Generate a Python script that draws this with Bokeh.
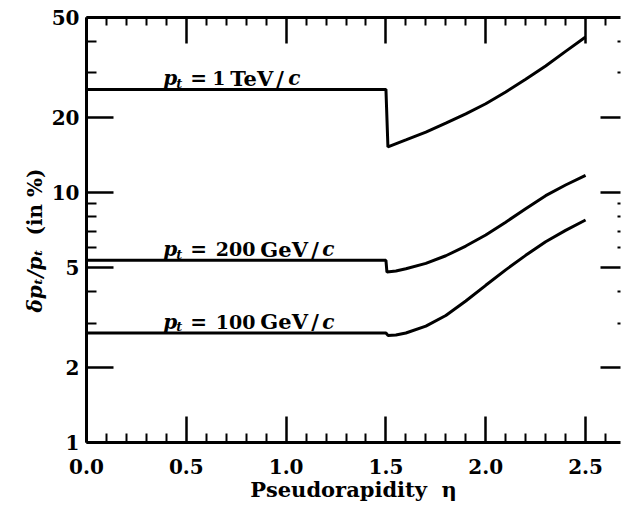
from bokeh.plotting import figure
from bokeh.models import (Range1d, FixedTicker, PrintfTickFormatter, LinearAxis,
                          LogAxis, Label)
from bokeh.embed import file_html
from bokeh.resources import INLINE

# ---- data ----
eta_1tev = [0.0, 1.50, 1.51, 1.6, 1.7, 1.8, 1.9, 2.0, 2.1, 2.2, 2.3, 2.4, 2.5]
res_1tev = [25.8, 25.8, 15.2, 16.2, 17.4, 18.9, 20.6, 22.6, 25.2, 28.3, 32.0, 36.6, 41.8]

eta_200 = [0.0, 1.50, 1.505, 1.55, 1.6, 1.7, 1.8, 1.9, 2.0, 2.1, 2.2, 2.3, 2.4, 2.5]
res_200 = [5.35, 5.35, 4.80, 4.85, 4.95, 5.2, 5.58, 6.1, 6.75, 7.6, 8.6, 9.7, 10.7, 11.7]

eta_100 = [0.0, 1.50, 1.51, 1.55, 1.6, 1.7, 1.8, 1.9, 2.0, 2.1, 2.2, 2.3, 2.4, 2.5]
res_100 = [2.74, 2.74, 2.68, 2.69, 2.74, 2.92, 3.22, 3.68, 4.25, 4.9, 5.6, 6.35, 7.05, 7.75]

curve_numbers = ["1", "200", "100"]
curve_units = ["TeV", "GeV", "GeV"]
curve_flat = [25.8, 5.35, 2.74]

x_ticks = [0.0, 0.5, 1.0, 1.5, 2.0, 2.5]
x_minor = [0.1, 0.2, 0.3, 0.4, 0.6, 0.7, 0.8, 0.9, 1.1, 1.2, 1.3, 1.4,
           1.6, 1.7, 1.8, 1.9, 2.1, 2.2, 2.3, 2.4, 2.6]
y_ticks = [1, 2, 5, 10, 20, 50]
y_minor = [3, 4, 6, 7, 8, 9, 30, 40]
y_ticks_right = [2, 5, 10, 20]

FONT = "DejaVu Serif"

p = figure(width=621, height=506, x_range=Range1d(0, 2.675), y_range=Range1d(1, 50),
           y_axis_type="log", output_backend="svg", toolbar_location=None,
           min_border_left=85, min_border_top=17, min_border_right=1, min_border_bottom=64)
p.outline_line_color = None
p.xgrid.visible = False
p.ygrid.visible = False


def style_axis(ax, show_labels, tick_in, minor_in, ticks=None):
    ax.axis_line_width = 3
    ax.axis_line_color = "black"
    ax.major_tick_in = tick_in
    ax.major_tick_out = 0
    ax.minor_tick_in = minor_in
    ax.minor_tick_out = 0
    ax.major_tick_line_width = 2.5
    ax.minor_tick_line_width = 2
    ax.major_tick_line_color = "black"
    ax.minor_tick_line_color = "black"
    if show_labels:
        ax.major_label_text_font = FONT
        ax.major_label_text_font_style = "bold"
        ax.major_label_text_font_size = "20px"
        ax.major_label_text_color = "black"
    else:
        ax.major_label_overrides = {float(t): "" for t in ticks}
        ax.major_label_text_font_size = "1px"
        ax.major_label_standoff = 0


xa = p.xaxis[0]
xa.ticker = FixedTicker(ticks=x_ticks, minor_ticks=x_minor)
xa.formatter = PrintfTickFormatter(format="%.1f")
style_axis(xa, True, 26, 9)
xa.major_label_standoff = 16
xa.axis_label = "Pseudorapidity\u00a0\u00a0η"
xa.axis_label_text_font = FONT
xa.axis_label_text_font_style = "bold"
xa.axis_label_text_font_size = "21px"
xa.axis_label_text_color = "black"
xa.axis_label_standoff = 0

ya = p.yaxis[0]
ya.ticker = FixedTicker(ticks=y_ticks, minor_ticks=y_minor)
ya.formatter = PrintfTickFormatter(format="%d")
style_axis(ya, True, 27, 10)
ya.major_label_standoff = 7

top = LinearAxis(ticker=FixedTicker(ticks=x_ticks, minor_ticks=x_minor))
style_axis(top, False, 26, 8, x_ticks)
p.add_layout(top, "above")

right = LogAxis(ticker=FixedTicker(ticks=y_ticks_right, minor_ticks=y_minor))
style_axis(right, False, 20, 3, y_ticks_right)
right.axis_line_color = None
p.add_layout(right, "right")

for xs, ys in [(eta_1tev, res_1tev), (eta_200, res_200), (eta_100, res_100)]:
    p.line(xs, ys, line_color="black", line_width=3)

# ---- curve labels: p_t = <num> <unit>/c ----
label_x = 0.385
num_end = [62, 92, 92]
unit_off = [67, 97, 97]
slash_off = [113, 148, 148]
label_end = [137, 171, 171]


def add_piece(text, xv, yv, xoff, yoff, size, style, align="left", angle=0.0, panel=None):
    lab = Label(text=text, x=xv, y=yv, x_offset=xoff, y_offset=yoff, angle=angle,
                text_font=FONT, text_font_style=style, text_font_size=size,
                text_align=align, text_baseline="alphabetic", text_color="black")
    if panel:
        p.add_layout(lab, panel)
    else:
        p.add_layout(lab)


for num, unit, yv, ne, uo, so, end in zip(curve_numbers, curve_units, curve_flat,
                                          num_end, unit_off, slash_off, label_end):
    add_piece("p", label_x, yv, 0, 11, "20px", "bold italic")
    add_piece("t", label_x, yv, 13, 6, "13px", "bold italic")
    add_piece("=", label_x, yv, 27, 11, "20px", "bold")
    add_piece(num, label_x, yv, ne, 11, "19px", "bold", "right")
    add_piece(unit, label_x, yv, uo, 11, "21px", "bold")
    add_piece("/", label_x, yv, so, 11, "21px", "bold")
    add_piece("c", label_x, yv, end, 11, "20px", "bold italic", "right")

# ---- rotated y-axis label: δpₜ/pₜ (in %) — two labels in the left panel ----
ANG = 1.5707963
add_piece("δpₜ/pₜ", 0, 1, -52, 130, "20px", "bold italic", "left", ANG, "left")
add_piece("(in %)", 0, 1, -52, 207, "20px", "bold", "left", ANG, "left")

open("out.html", "w").write(file_html(p, INLINE))
